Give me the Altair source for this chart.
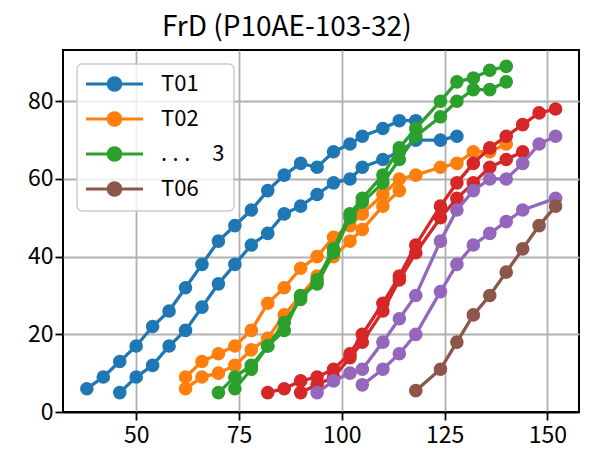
import math
import altair as alt
import pandas as pd

TITLE = "FrD (P10AE-103-32)"
GROUPS = ["T01", "T02", ".\u2005.\u2005.\u2002\u20023", "T04", "T05", "T06"]
COLORS = ["#1f77b4", "#ff7f0e", "#2ca02c", "#d62728", "#9467bd", "#8c564b"]
LEGEND_GROUPS = ["T01", "T02", GROUPS[2], "T06"]
X_TICKS = [50, 75, 100, 125, 150]
Y_TICKS = [0, 20, 40, 60, 80]

T01A_X = [38, 42, 46, 50, 54, 58, 62, 66, 70, 74, 78, 82, 86, 90, 94, 98, 102, 105, 110, 114, 118]
T01A_Y = [6, 9, 13, 17, 22, 26, 32, 38, 44, 48, 52, 57, 61, 64, 63, 67, 69, 71, 73, 75, 75]
T01B_X = [46, 50, 54, 58, 62, 66, 70, 74, 78, 82, 86, 90, 94, 98, 102, 105, 110, 114, 118, 124, 128]
T01B_Y = [5, 9, 12, 17, 21, 27, 33, 38, 43, 46, 51, 53, 56, 59, 60, 63, 65, 67, 70, 70, 71]
T02A_X = [62, 66, 70, 74, 78, 82, 86, 90, 94, 98, 102, 105, 110, 114, 118, 124, 128, 132, 136, 140]
T02A_Y = [9, 13, 15, 17, 21, 28, 32, 37, 40, 45, 48, 51, 56, 60, 61, 63, 64, 67, 67, 69]
T02B_X = [62, 66, 70, 74, 78, 82, 86, 90, 94, 98, 102, 105, 110, 114]
T02B_Y = [6, 9, 10, 12, 16, 19, 25, 30, 35, 40, 44, 47, 53, 57]
T03A_X = [70, 74, 78, 82, 86, 90, 94, 98, 102, 105, 110, 114, 118, 124, 128, 132, 136, 140]
T03A_Y = [5, 9, 12, 17, 23, 29, 34, 42, 51, 55, 61, 68, 73, 80, 85, 86, 88, 89]
T03B_X = [74, 78, 82, 86, 90, 94, 98, 102, 105, 110, 114, 118, 124, 128, 132, 136, 140]
T03B_Y = [6, 11, 17, 21, 30, 33, 41, 50, 54, 59, 65, 71, 76, 80, 83, 83, 85]
T04A_X = [82, 86, 90, 94, 98, 102, 105, 110, 114, 118, 124, 128, 132, 136, 140, 144, 148, 152]
T04A_Y = [5, 6, 8, 9, 11, 15, 20, 28, 35, 43, 53, 59, 64, 68, 71, 74, 77, 78]
T04B_X = [90, 94, 98, 102, 105, 110, 114, 118, 124, 128, 132, 136, 140, 144]
T04B_Y = [5, 7, 9, 14, 18, 26, 34, 41, 50, 55, 59, 63, 65, 67]
T05A_X = [94, 98, 102, 105, 110, 114, 118, 124, 128, 132, 136, 140, 144, 148, 152]
T05A_Y = [5, 8, 10, 11, 18, 24, 30, 44, 52, 57, 60, 60, 64, 69, 71]
T05B_X = [105, 110, 114, 118, 124, 128, 132, 136, 140, 144, 152]
T05B_Y = [7, 11, 15, 20, 31, 38, 43, 46, 49, 52, 55]
T06_X = [118, 124, 128, 132, 136, 140, 144, 148, 152]
T06_Y = [5.5, 11, 18, 25, 30, 36, 42, 48, 53]

SERIES = [
    ("s01a", 0, T01A_X, T01A_Y),
    ("s01b", 0, T01B_X, T01B_Y),
    ("s02a", 1, T02A_X, T02A_Y),
    ("s02b", 1, T02B_X, T02B_Y),
    ("s03a", 2, T03A_X, T03A_Y),
    ("s03b", 2, T03B_X, T03B_Y),
    ("s04a", 3, T04A_X, T04A_Y),
    ("s04b", 3, T04B_X, T04B_Y),
    ("s05a", 4, T05A_X, T05A_Y),
    ("s05b", 4, T05B_X, T05B_Y),
    ("s06", 5, T06_X, T06_Y),
]

rows = []
for sid, gi, xs, ys in SERIES:
    for i, (xv, yv) in enumerate(zip(xs, ys)):
        rows.append({"series": sid, "group": GROUPS[gi], "x": xv, "y": yv, "idx": i})
df = pd.DataFrame(rows)

SERIES_IDS = [s[0] for s in SERIES]
SERIES_COLORS = [COLORS[s[1]] for s in SERIES]

FONT = "Noto Sans CJK JP"

# legend glyph: a line with a dot in its middle, in symbol units (1 unit = 9 px)
_cx, _r = 1.944, 0.70
_poly = " ".join(
    ("M" if k == 0 else "L")
    + f"{_cx + _r*math.cos(2*math.pi*k/24):.4f},{_r*math.sin(2*math.pi*k/24):.4f}"
    for k in range(24)
)
LEGEND_SYMBOL = "M-1.222,0L5.111,0 " + _poly + " Z"

group_scale = alt.Scale(domain=GROUPS, range=COLORS)
series_scale = alt.Scale(domain=SERIES_IDS, range=SERIES_COLORS)

legend = alt.Legend(
    title=None,
    values=LEGEND_GROUPS,
    orient="top-left",
    offset=13.5,
    padding=9,
    fillColor="rgba(255,255,255,0.8)",
    strokeColor="#cccccc",
    cornerRadius=5,
    labelFont=FONT,
    labelFontSize=22,
    labelColor="black",
    labelOffset=53,
    labelLimit=300,
    rowPadding=9,
    symbolType=LEGEND_SYMBOL,
    symbolSize=324,
    symbolStrokeWidth=3,
)

x_axis = alt.Axis(
    values=X_TICKS, title=None, grid=True, domain=False,
    gridColor="#b0b0b0", gridWidth=1.8,
    tickColor="black", tickSize=8, tickWidth=1.8,
    labelFont=FONT, labelFontSize=23, labelColor="black", labelPadding=4,
)
y_axis = alt.Axis(
    values=Y_TICKS, title=None, grid=True, domain=False,
    gridColor=alt.condition("datum.value == 0", alt.value("black"), alt.value("#b0b0b0")),
    gridWidth=1.8,
    tickColor="black", tickSize=8, tickWidth=1.8,
    labelFont=FONT, labelFontSize=23, labelColor="black", labelPadding=2,
)

X = alt.X("x:Q", scale=alt.Scale(domain=[32.2, 157.7], nice=False, zero=False), axis=x_axis)
Y = alt.Y("y:Q", scale=alt.Scale(domain=[0, 93.2], nice=False, zero=False), axis=y_axis)

layers = []
for sid, gi, xs, ys in SERIES:
    base = alt.Chart(df).transform_filter(alt.datum.series == sid)
    line = base.mark_line(strokeWidth=3.3).encode(
        x=X, y=Y,
        color=alt.Color("series:N", scale=series_scale, legend=None),
        order="idx:Q",
    )
    pts = base.mark_point(filled=True, size=113, strokeWidth=3, opacity=1).encode(
        x=X, y=Y,
        fill=alt.Fill("group:N", scale=group_scale, legend=legend),
        stroke=alt.Stroke("group:N", scale=group_scale, legend=legend),
    )
    layers += [line, pts]

chart = alt.layer(*layers).properties(
    width=516,
    height=362,
    title=alt.TitleParams(
        TITLE, anchor="start", frame="group", dx=99, offset=8,
        font=FONT, fontSize=28, fontWeight="normal", color="black",
    ),
    autosize=alt.AutoSizeParams(type="none"),
    padding={"left": 55, "top": 42, "right": 2, "bottom": 36},
).configure_view(
    stroke="black", strokeWidth=2
).configure_legend(
    strokeWidth=1.5
)

chart.save("out.html", embed_options={"renderer": "svg", "actions": False})
